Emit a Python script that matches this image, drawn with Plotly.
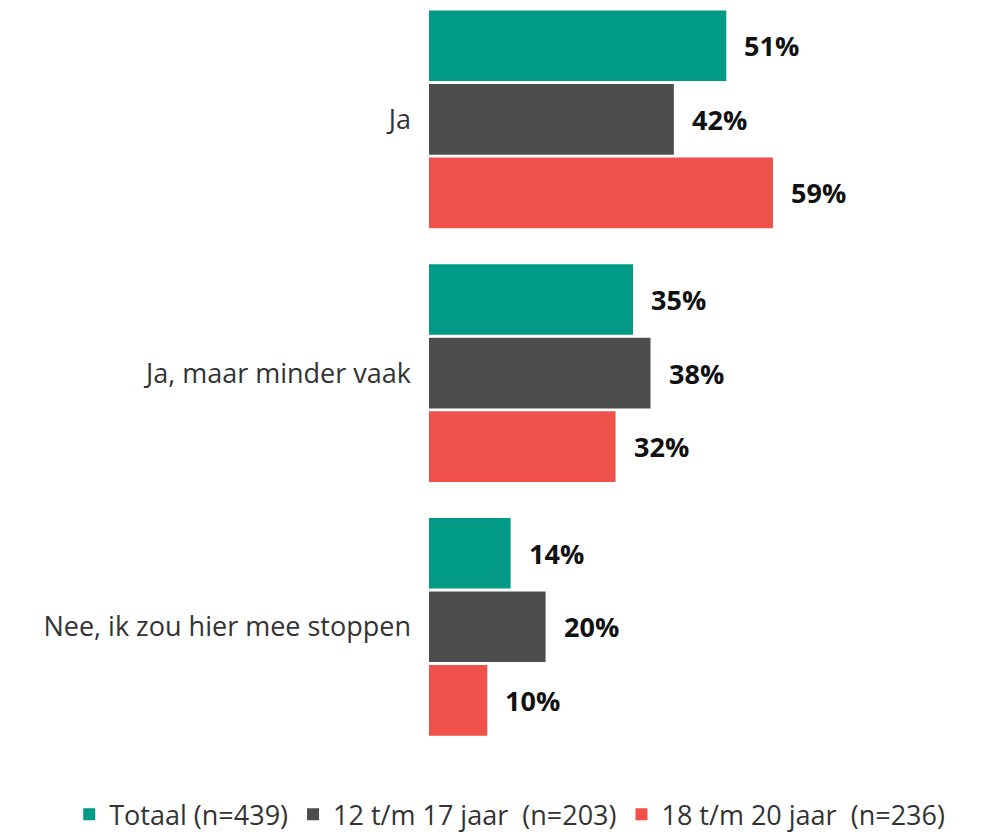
import plotly.graph_objects as go

categories = ["Ja", "Ja, maar minder vaak", "Nee, ik zou hier mee stoppen"]
series_names = ["Totaal (n=439)", "12 t/m 17 jaar  (n=203)", "18 t/m 20 jaar  (n=236)"]
totaal = [51, 35, 14]
jaar_12_17 = [42, 38, 20]
jaar_18_20 = [59, 32, 10]
colors = ["#009A87", "#4D4D4D", "#F0524B"]

FONT = "Open Sans"
series_values = [totaal, jaar_12_17, jaar_18_20]

fig = go.Figure()
for name, vals, col in zip(series_names, series_values, colors):
    fig.add_trace(go.Bar(
        y=categories, x=vals, name=name, orientation="h",
        marker=dict(color=col, line=dict(width=0)),
        hoverinfo="skip",
    ))

# data labels
slot_px = 73.6
offsets = [slot_px, 0, -slot_px]
for vals, off in zip(series_values, offsets):
    for cat, v in zip(categories, vals):
        fig.add_annotation(
            x=v, y=cat, text=f"<b>{v}%</b>", showarrow=False,
            xanchor="left", yanchor="middle", xshift=16, yshift=off,
            font=dict(family=FONT, size=27, color="#111111"),
        )

fig.update_layout(
    width=982, height=834,
    margin=dict(l=429, r=12, t=0, b=74, autoexpand=False),
    plot_bgcolor="white", paper_bgcolor="white",
    barmode="group", bargap=0.13, bargroupgap=0.04,
    font=dict(family=FONT, size=27, color="#333333"),
    showlegend=True,
    legend=dict(
        orientation="h", x=-0.665, xanchor="left", xref="paper",
        y=-0.072, yanchor="middle", yref="paper",
        font=dict(family=FONT, size=27, color="#333333"),
        traceorder="normal", itemwidth=30,
    ),
    xaxis=dict(range=[0, 92.8], visible=False, showgrid=False, zeroline=False),
    yaxis=dict(
        categoryorder="array", categoryarray=categories,
        range=[2.525, -0.4704], showgrid=False, zeroline=False,
        showline=False, ticks="", ticklabelstandoff=17, automargin=False,
        tickfont=dict(family=FONT, size=27, color="#333333"),
    ),
)

fig.write_html("out.html", config={"displayModeBar": False},
               post_script="document.body.style.margin='0';")
